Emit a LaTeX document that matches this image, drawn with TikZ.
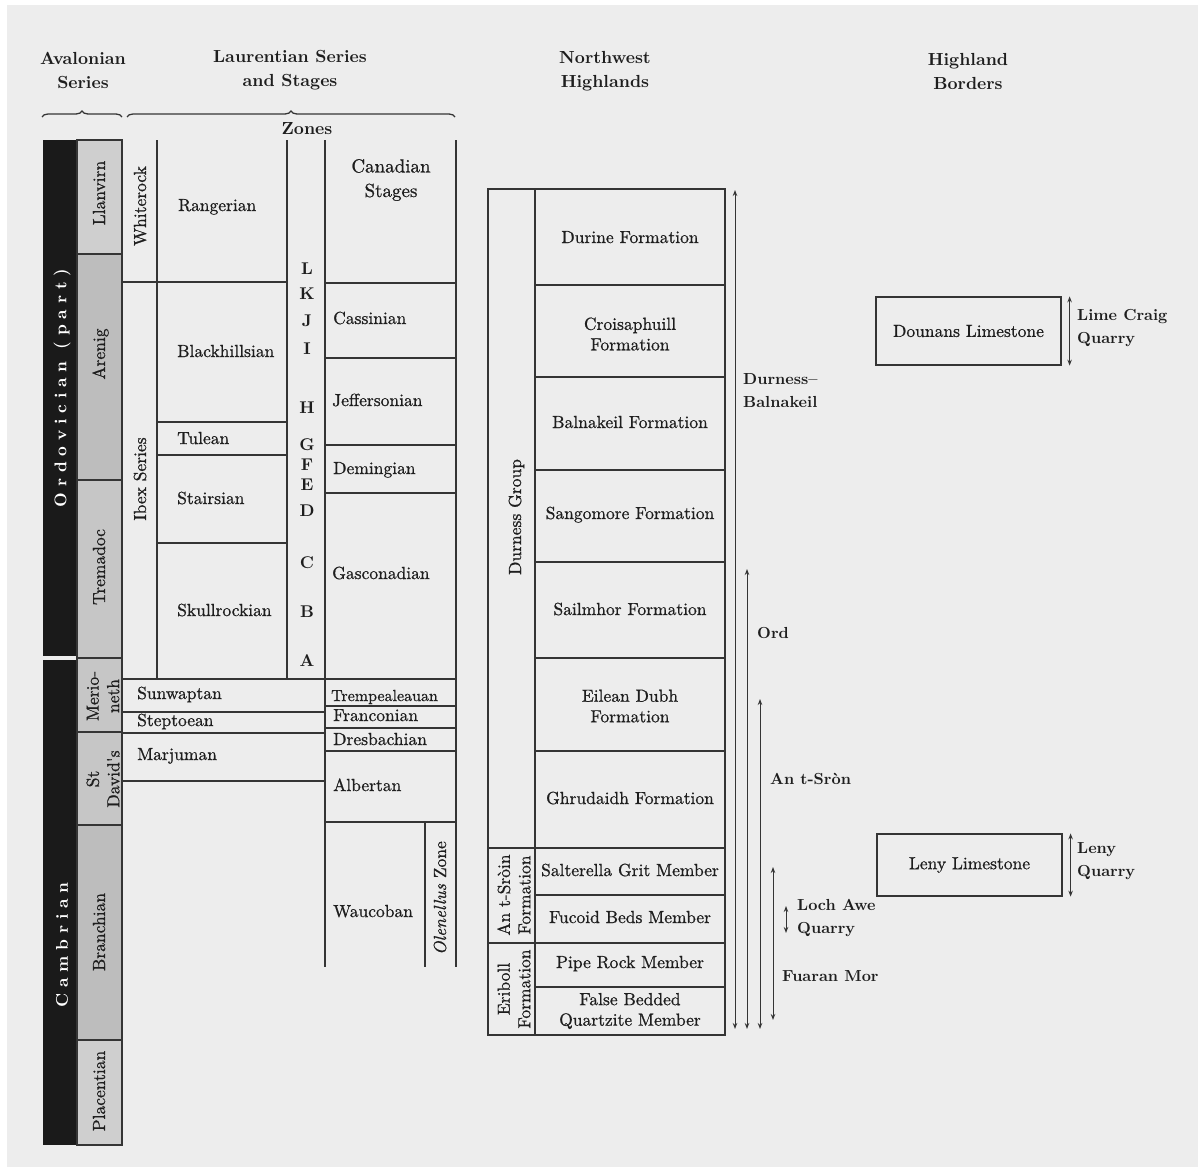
\documentclass[tikz,border=0pt]{standalone}
\usepackage{fontspec}
\setmainfont{lmroman10-regular.otf}[BoldFont=lmroman10-bold.otf, ItalicFont=lmroman10-italic.otf, BoldItalicFont=lmroman10-bolditalic.otf]
\newfontfamily\medfont{lmroman10-regular.otf}[FakeBold=0.8, ItalicFont=lmroman10-italic.otf]
\usetikzlibrary{arrows.meta,decorations.pathreplacing}
\definecolor{bg}{HTML}{EDEDED}
\definecolor{ln}{HTML}{353535}
\definecolor{txt}{HTML}{1E1E1E}
\definecolor{blk}{HTML}{1A1A1A}
\definecolor{gA}{HTML}{CFCFCF}
\definecolor{gB}{HTML}{BDBDBD}
\definecolor{gC}{HTML}{C6C6C6}
\newcommand{\lk}{\kern5.8pt}
\begin{document}
\begin{tikzpicture}[x=1pt,y=-1pt,
  grid/.style={draw=ln, line width=1.2pt},
  lbl/.style={font=\medfont\fontsize{17.5}{20}\selectfont, inner sep=0pt, text=txt, text height=12pt, text depth=4pt},
  mlbl/.style={font=\medfont\fontsize{17.5}{20.5}\selectfont, inner sep=0pt, text=txt, align=center},
  lft/.style={lbl, anchor=west},
  hdr/.style={font=\bfseries\fontsize{17.5}{24}\selectfont, inner sep=0pt, text=txt, align=center},
  zn/.style={font=\bfseries\fontsize{17}{20}\selectfont, inner sep=0pt, text=txt, text height=12pt, text depth=0pt},
  rl/.style={font=\bfseries\fontsize{16}{23}\selectfont, inner sep=0pt, text=txt, align=left, anchor=west},
  vl/.style={lbl, rotate=90},
  mvl/.style={mlbl, rotate=90},
  per/.style={font=\bfseries\fontsize{17}{20}\selectfont, text=white, rotate=90, inner sep=0pt},
  rng/.style={draw=ln, line width=1pt, {Stealth[length=6pt,width=4.5pt]}-{Stealth[length=6pt,width=4.5pt]}},
  lbox/.style={draw=ln, line width=1.2pt, inner sep=0pt, font=\medfont\fontsize{17.5}{20}\selectfont, text=txt},
]
\fill[white] (0,0) rectangle (1198,1167);
\fill[bg] (7,5) rectangle (1198,1167);
\useasboundingbox (0,0) rectangle (1198,1167);

% ---------- headers ----------
\node[hdr] (hAval) at (83,70) {Avalonian\\Series};
\node[hdr] (hLaur) at (290,70) {Laurentian Series\\and Stages};
\node[hdr] (hZones) at (307,129) {Zones};
\node[hdr] (hNW) at (605,71) {Northwest\\Highlands};
\node[hdr] (hHB) at (968,71) {Highland\\Borders};
\draw[ln, line width=1.3pt, decorate, decoration={brace, amplitude=6pt}] (42,117) -- (122,117);
\draw[ln, line width=1.3pt, decorate, decoration={brace, amplitude=6pt}] (127,117) -- (455,117);

% ---------- period bar ----------
\fill[blk] (43,140) rectangle (77,656);
\fill[blk] (43,660) rectangle (77,1145);
\node[per] (pOrd) at (62,388) {O\lk r\lk d\lk o\lk v\lk i\lk c\lk i\lk a\lk n\lk\ (\lk p\lk a\lk r\lk t\lk )};
\node[per] (pCam) at (62,945) {C\lk a\lk m\lk b\lk r\lk i\lk a\lk n};

% ---------- Avalonian series column ----------
\filldraw[grid, fill=gA] (77,140) rectangle (122,254);
\filldraw[grid, fill=gB] (77,254) rectangle (122,480);
\filldraw[grid, fill=gC] (77,480) rectangle (122,658);
\filldraw[grid, fill=gC] (77,658) rectangle (122,732);
\filldraw[grid, fill=gC] (77,732) rectangle (122,825);
\filldraw[grid, fill=gB] (77,825) rectangle (122,1040);
\filldraw[grid, fill=gA] (77,1040) rectangle (122,1145);
\node[vl] (sLlan) at (101,193) {Llanvirn};
\node[vl] (sAren) at (101,354) {Arenig};
\node[vl] (sTrem) at (101,567) {Tremadoc};
\node[mvl] (sMer) at (103,696) {Merio-\\neth};
\node[mvl] (sStD) at (103,779) {St\\David's};
\node[vl] (sBran) at (101,932) {Branchian};
\node[vl] (sPlac) at (101,1091) {Placentian};

% ---------- Laurentian grid ----------
\draw[grid] (157,140) -- (157,679);
\draw[grid] (287,140) -- (287,679);
\draw[grid] (325,140) -- (325,967);
\draw[grid] (456,140) -- (456,967);
\draw[grid] (425,822) -- (425,967);
\draw[grid] (122,282) -- (287,282);
\draw[grid] (325,283) -- (456,283);
\draw[grid] (157,422) -- (287,422);
\draw[grid] (157,455) -- (287,455);
\draw[grid] (157,543) -- (287,543);
\draw[grid] (325,358) -- (456,358);
\draw[grid] (325,445) -- (456,445);
\draw[grid] (325,493) -- (456,493);
\draw[grid] (122,679) -- (456,679);
\draw[grid] (122,712) -- (325,712);
\draw[grid] (122,733) -- (325,733);
\draw[grid] (122,781) -- (325,781);
\draw[grid] (325,706) -- (456,706);
\draw[grid] (325,728) -- (456,728);
\draw[grid] (325,751) -- (456,751);
\draw[grid] (325,822) -- (456,822);

\node[vl] (lWhite) at (142,206) {Whiterock};
\node[vl] (lIbex) at (142,479) {Ibex Series};

\node[lft] (tRang) at (178,207) {Rangerian};
\node[lft] (tBlack) at (177,353) {Blackhillsian};
\node[lft] (tTule) at (177,440) {Tulean};
\node[lft] (tStai) at (177,500) {Stairsian};
\node[lft] (tSkul) at (177,612) {Skullrockian};
\node[lft] (tSunw) at (137,695) {Sunwaptan};
\node[lft] (tStep) at (137,722) {Steptoean};
\node[lft] (tMarj) at (137,756) {Marjuman};

\node[zn] (zL) at (307,268) {L};
\node[zn] (zK) at (307,293) {K};
\node[zn] (zJ) at (307,320) {J};
\node[zn] (zI) at (307,348) {I};
\node[zn] (zH) at (307,407) {H};
\node[zn] (zG) at (307,444) {G};
\node[zn] (zF) at (307,464) {F};
\node[zn] (zE) at (307,484) {E};
\node[zn] (zD) at (307,510) {D};
\node[zn] (zC) at (307,562) {C};
\node[zn] (zB) at (307,611) {B};
\node[zn] (zA) at (307,660) {A};

\node[mlbl, font=\medfont\fontsize{19}{24.5}\selectfont] (cHead) at (391,180) {Canadian\\Stages};
\node[lft] (cCass) at (333,320) {Cassinian};
\node[lft] (cJeff) at (332,402) {Jeffersonian};
\node[lft] (cDemi) at (333,470) {Demingian};
\node[lft] (cGasc) at (332,575) {Gasconadian};
\node[lft, font=\medfont\fontsize{16}{20}\selectfont] (cTrem) at (331,697) {Trempealeauan};
\node[lft] (cFran) at (333,717) {Franconian};
\node[lft] (cDres) at (333,741) {Dresbachian};
\node[lft] (cAlbe) at (333,787) {Albertan};
\node[lft] (cWauc) at (333,913) {Waucoban};
\node[vl] (cOlen) at (442,898) {\textit{Olenellus} Zone};

% ---------- Northwest Highlands ----------
\draw[grid] (488,189) rectangle (725,1035);
\draw[grid] (535,189) -- (535,1035);
\foreach \yy in {285,377,470,562,658,751,895,987} \draw[grid] (535,\yy) -- (725,\yy);
\foreach \yy in {848,943} \draw[grid] (488,\yy) -- (725,\yy);

\node[lbl] (fDur) at (630,239) {Durine Formation};
\node[mlbl] (fCro) at (630,334) {Croisaphuill\\Formation};
\node[lbl] (fBal) at (630,424) {Balnakeil Formation};
\node[lbl] (fSan) at (630,515) {Sangomore Formation};
\node[lbl] (fSai) at (630,611) {Sailmhor Formation};
\node[mlbl] (fEil) at (630,706) {Eilean Dubh\\Formation};
\node[lbl] (fGhr) at (630,800) {Ghrudaidh Formation};
\node[lbl] (fSal) at (630,872) {Salterella Grit Member};
\node[lbl] (fFuc) at (630,919) {Fucoid Beds Member};
\node[lbl] (fPip) at (630,964) {Pipe Rock Member};
\node[mlbl] (fFal) at (630,1011) {False Bedded\\Quartzite Member};
\node[vl] (gDur) at (517,517) {Durness Group};
\node[mvl] (gAnt) at (514,895) {An t-Sròin\\Formation};
\node[mvl] (gEri) at (514,989) {Eriboll\\Formation};

% ---------- ranges ----------
\coordinate (r1t) at (735,190); \coordinate (r1b) at (735,1029);
\coordinate (r2t) at (747,569); \coordinate (r2b) at (747,1029);
\coordinate (r3t) at (760,699); \coordinate (r3b) at (760,1029);
\coordinate (r4t) at (773,867); \coordinate (r4b) at (773,1020);
\coordinate (r5t) at (786,906); \coordinate (r5b) at (786,933);
\draw[rng] (r1b) -- (r1t);
\draw[rng] (r2b) -- (r2t);
\draw[rng] (r3b) -- (r3t);
\draw[rng] (r4b) -- (r4t);
\draw[rng] (r5b) -- (r5t);
\node[rl] (kDB) at (743,391) {Durness--\\Balnakeil};
\node[rl] (kOrd) at (757,633) {Ord};
\node[rl] (kAnt) at (770,779) {An t-Sròn};
\node[rl] (kLoch) at (797,918) {Loch Awe\\Quarry};
\node[rl] (kFua) at (782,976) {Fuaran Mor};

% ---------- Highland Borders ----------
\node[lbox, minimum width=185pt, minimum height=68pt] (bDou) at (968.5,331) {Dounans Limestone};
\node[lbox, minimum width=185pt, minimum height=62pt] (bLen) at (969.5,865) {Leny Limestone};
\coordinate (dq1) at ([xshift=8pt]bDou.north east);
\coordinate (dq2) at ([xshift=8pt]bDou.south east);
\coordinate (lq1) at ([xshift=8pt]bLen.north east);
\coordinate (lq2) at ([xshift=8pt]bLen.south east);
\draw[rng] (dq2) -- (dq1);
\draw[rng] (lq2) -- (lq1);
\node[rl] (kLime) at (1077,328) {Lime Craig\\Quarry};
\node[rl] (kLeny) at (1077,861) {Leny\\Quarry};
\end{tikzpicture}
\end{document}
